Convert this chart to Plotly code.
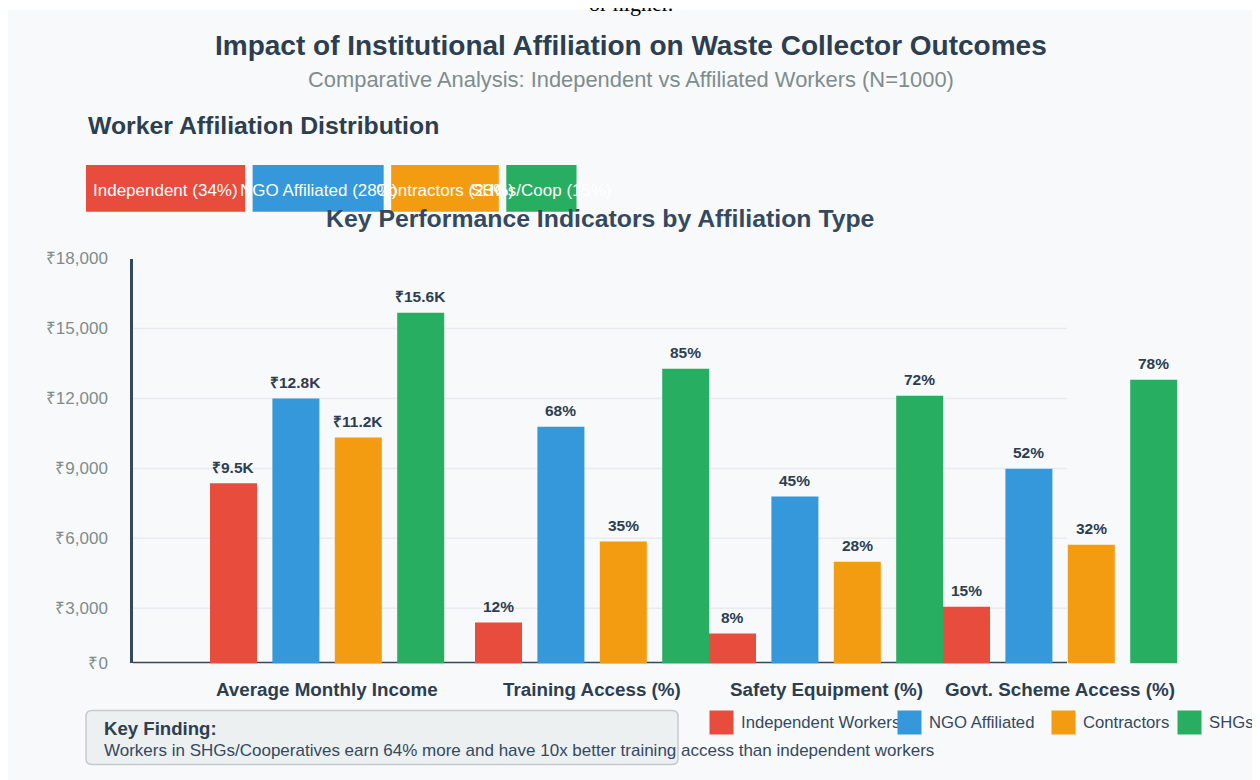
import plotly.graph_objects as go

# ---------------- data ----------------
categories = ["Average Monthly Income", "Training Access (%)",
              "Safety Equipment (%)", "Govt. Scheme Access (%)"]
series_names = ["Independent Workers", "NGO Affiliated", "Contractors", "SHGs/Cooperatives"]

# values printed above the bars (income in rupees, the rest in %)
independent_values = [9500, 12, 8, 15]
ngo_values = [12800, 68, 45, 52]
contractor_values = [11200, 35, 28, 32]
shg_values = [15600, 85, 72, 78]

# bar heights as drawn in the reference, read on its rupee axis
independent_heights = [8360, 2390, 1920, 3070]
ngo_heights = [12000, 10790, 7790, 8990]
contractor_heights = [10320, 5860, 5000, 5730]
shg_heights = [15670, 13270, 12120, 12800]

# affiliation distribution (share of the N=1000 workers, %)
affiliation_labels = ["Independent", "NGO Affiliated", "Contractors", "SHGs/Coop"]
affiliation_shares = [34, 28, 23, 15]

y_tick_values = [0, 3000, 6000, 9000, 12000, 15000, 18000]

colors = ["#e74c3c", "#3498db", "#f39c12", "#27ae60"]

# ---------------- layout helpers ----------------
W, H = 1260, 780
FONT = "Liberation Sans, Arial, Helvetica, sans-serif"
DARK = "#2c3e50"
AXIS = "#34495e"
GRAY = "#7f8c8d"

# the page places the figure at an offset; map screen pixels to paper fractions
OFF_X, OFF_Y, VIS_H = 8, 16, 761.5


def PX(x):
    return (x - OFF_X) / W


def PY(y):
    return 1 - (y - OFF_Y) / VIS_H


# plot geometry (pixel based linear x axis)
X_LEFT, X_RIGHT, X_AXIS_END = 133, 1190, 1067
GROUP_LEFT = [210, 475, 709, 943]
BAR_STEP = 62.4
BAR_W = 47
Y_BOTTOM = 643  # the reference draws its baseline 15px above its zero


def fmt(v, g):
    if g == 0:
        return f"₹{v / 1000:.1f}K"
    return f"{v}%"


fig = go.Figure()
annotations = []
shapes = []

# card background
shapes.append(dict(type="rect", xref="paper", yref="paper", x0=PX(8), x1=PX(1253),
                   y0=PY(800), y1=PY(9), fillcolor="#f8f9fa", line=dict(width=0),
                   layer="below"))

series_values = [independent_values, ngo_values, contractor_values, shg_values]
series_heights = [independent_heights, ngo_heights, contractor_heights, shg_heights]

for s, (name, vals, hts, col) in enumerate(zip(series_names, series_values,
                                               series_heights, colors)):
    xs = [GROUP_LEFT[g] + s * BAR_STEP + BAR_W / 2 for g in range(len(categories))]
    fig.add_trace(go.Bar(x=xs, y=hts, width=BAR_W, name=name, showlegend=False,
                         marker=dict(color=col, line=dict(width=0))))
    for g, (x, h, v) in enumerate(zip(xs, hts, vals)):
        annotations.append(dict(x=x, y=h, xref="x", yref="y", yshift=16,
                                text=f"<b>{fmt(v, g)}</b>", showarrow=False,
                                font=dict(family=FONT, size=15.5, color=DARK),
                                xanchor="center", yanchor="middle"))

# gridlines and x baseline
for v in y_tick_values[1:-1]:
    shapes.append(dict(type="line", xref="x", yref="y", x0=X_LEFT, x1=X_AXIS_END,
                       y0=v, y1=v, line=dict(color="#e9ecef", width=1.5), layer="below"))
shapes.append(dict(type="line", xref="x", yref="y", x0=X_LEFT, x1=X_AXIS_END,
                   y0=Y_BOTTOM, y1=Y_BOTTOM, line=dict(color=AXIS, width=3), layer="below"))

# group labels
for g, cat in enumerate(categories):
    cx = GROUP_LEFT[g] + (3 * BAR_STEP + BAR_W) / 2
    annotations.append(dict(x=cx, y=PY(689), xref="x", yref="paper", text=f"<b>{cat}</b>",
                            showarrow=False, font=dict(family=FONT, size=18.8, color=DARK),
                            xanchor="center", yanchor="middle"))


def text(t, x, y, size, color, bold=False, xanchor="center", family=FONT, **kw):
    annotations.append(dict(x=PX(x), y=PY(y), xref="paper", yref="paper",
                            text=f"<b>{t}</b>" if bold else t, showarrow=False,
                            font=dict(family=family, size=size, color=color),
                            xanchor=xanchor, yanchor="middle", **kw))


# stray text at the very top of the page (cut off)
text("or higher.", 631, 2, 22, "#000000", family="Liberation Serif, Times New Roman, serif")

# titles
text("Impact of Institutional Affiliation on Waste Collector Outcomes", 631, 45, 28, DARK, bold=True)
text("Comparative Analysis: Independent vs Affiliated Workers (N=1000)", 631, 79, 21.9, GRAY)
text("Worker Affiliation Distribution", 86, 125, 24.8, DARK, bold=True, xanchor="left")

# affiliation distribution blocks
SCALE, GAP, BX, BY0, BY1 = 4.68, 7.5, 86, 164, 211
left = BX
blocks = []
for lab, share, col in zip(affiliation_labels, affiliation_shares, colors):
    w = share * SCALE
    shapes.append(dict(type="rect", xref="paper", yref="paper", x0=PX(left), x1=PX(left + w),
                       y0=PY(BY1), y1=PY(BY0), fillcolor=col, line=dict(width=0)))
    blocks.append((lab, share, left + w / 2))
    left += w + GAP
for lab, share, cx in blocks:
    text(f"{lab} ({share}%)", cx, 189.5, 17, "#ffffff")

text("Key Performance Indicators by Affiliation Type", 600, 218, 24.8, AXIS, bold=True)


# key finding box
def rounded(x0, y0, x1, y1, r):
    return (f"M {PX(x0 + r)},{PY(y0)} L {PX(x1 - r)},{PY(y0)} "
            f"Q {PX(x1)},{PY(y0)} {PX(x1)},{PY(y0 + r)} L {PX(x1)},{PY(y1 - r)} "
            f"Q {PX(x1)},{PY(y1)} {PX(x1 - r)},{PY(y1)} L {PX(x0 + r)},{PY(y1)} "
            f"Q {PX(x0)},{PY(y1)} {PX(x0)},{PY(y1 - r)} L {PX(x0)},{PY(y0 + r)} "
            f"Q {PX(x0)},{PY(y0)} {PX(x0 + r)},{PY(y0)} Z")


shapes.append(dict(type="path", xref="paper", yref="paper", path=rounded(86, 710, 678, 764, 6),
                   fillcolor="#ecf0f1", line=dict(color="#c4cacf", width=1.5)))
text("Key Finding:", 102, 728, 18.6, DARK, bold=True, xanchor="left")
text("Workers in SHGs/Cooperatives earn 64% more and have 10x better training access "
     "than independent workers", 102, 750, 17, AXIS, xanchor="left")

# bottom legend (squares drawn as annotations so later ones cover earlier text)
LEG_X = [709, 897, 1051, 1177]
for name, col, lx in zip(series_names, colors, LEG_X):
    annotations.append(dict(x=PX(lx), y=PY(721.5), xref="paper", yref="paper", text=" ",
                            showarrow=False, width=23, height=23, bgcolor=col, borderpad=0,
                            xanchor="left", yanchor="middle", font=dict(size=1)))
    text(name, lx + 30, 722, 16.7, AXIS, xanchor="left")
# page edge beyond the card
annotations.append(dict(x=PX(1253), y=PY(722), xref="paper", yref="paper", text=" ",
                        showarrow=False, width=20, height=30, bgcolor="#ffffff", borderpad=0,
                        xanchor="left", yanchor="middle", font=dict(size=1)))

fig.update_layout(
    width=W, height=H, autosize=False,
    margin=dict(l=0, r=0, t=0, b=0),
    paper_bgcolor="#ffffff", plot_bgcolor="rgba(0,0,0,0)",
    barmode="overlay", showlegend=False,
    font=dict(family=FONT),
    xaxis=dict(domain=[PX(X_LEFT), PX(X_RIGHT)], range=[X_LEFT, X_RIGHT], visible=False,
               fixedrange=True),
    yaxis=dict(domain=[PY(662.7), PY(257.7)], range=[Y_BOTTOM, 18000],
               tickvals=[max(v, Y_BOTTOM) for v in y_tick_values],
               ticktext=[f"₹{v:,}" for v in y_tick_values],
               showgrid=False, zeroline=False, showline=True, linecolor=AXIS, linewidth=2.5,
               ticks="", ticklabelstandoff=19,
               tickfont=dict(family=FONT, size=17, color=GRAY), fixedrange=True),
    shapes=shapes, annotations=annotations,
)

fig.write_html("out.html")
